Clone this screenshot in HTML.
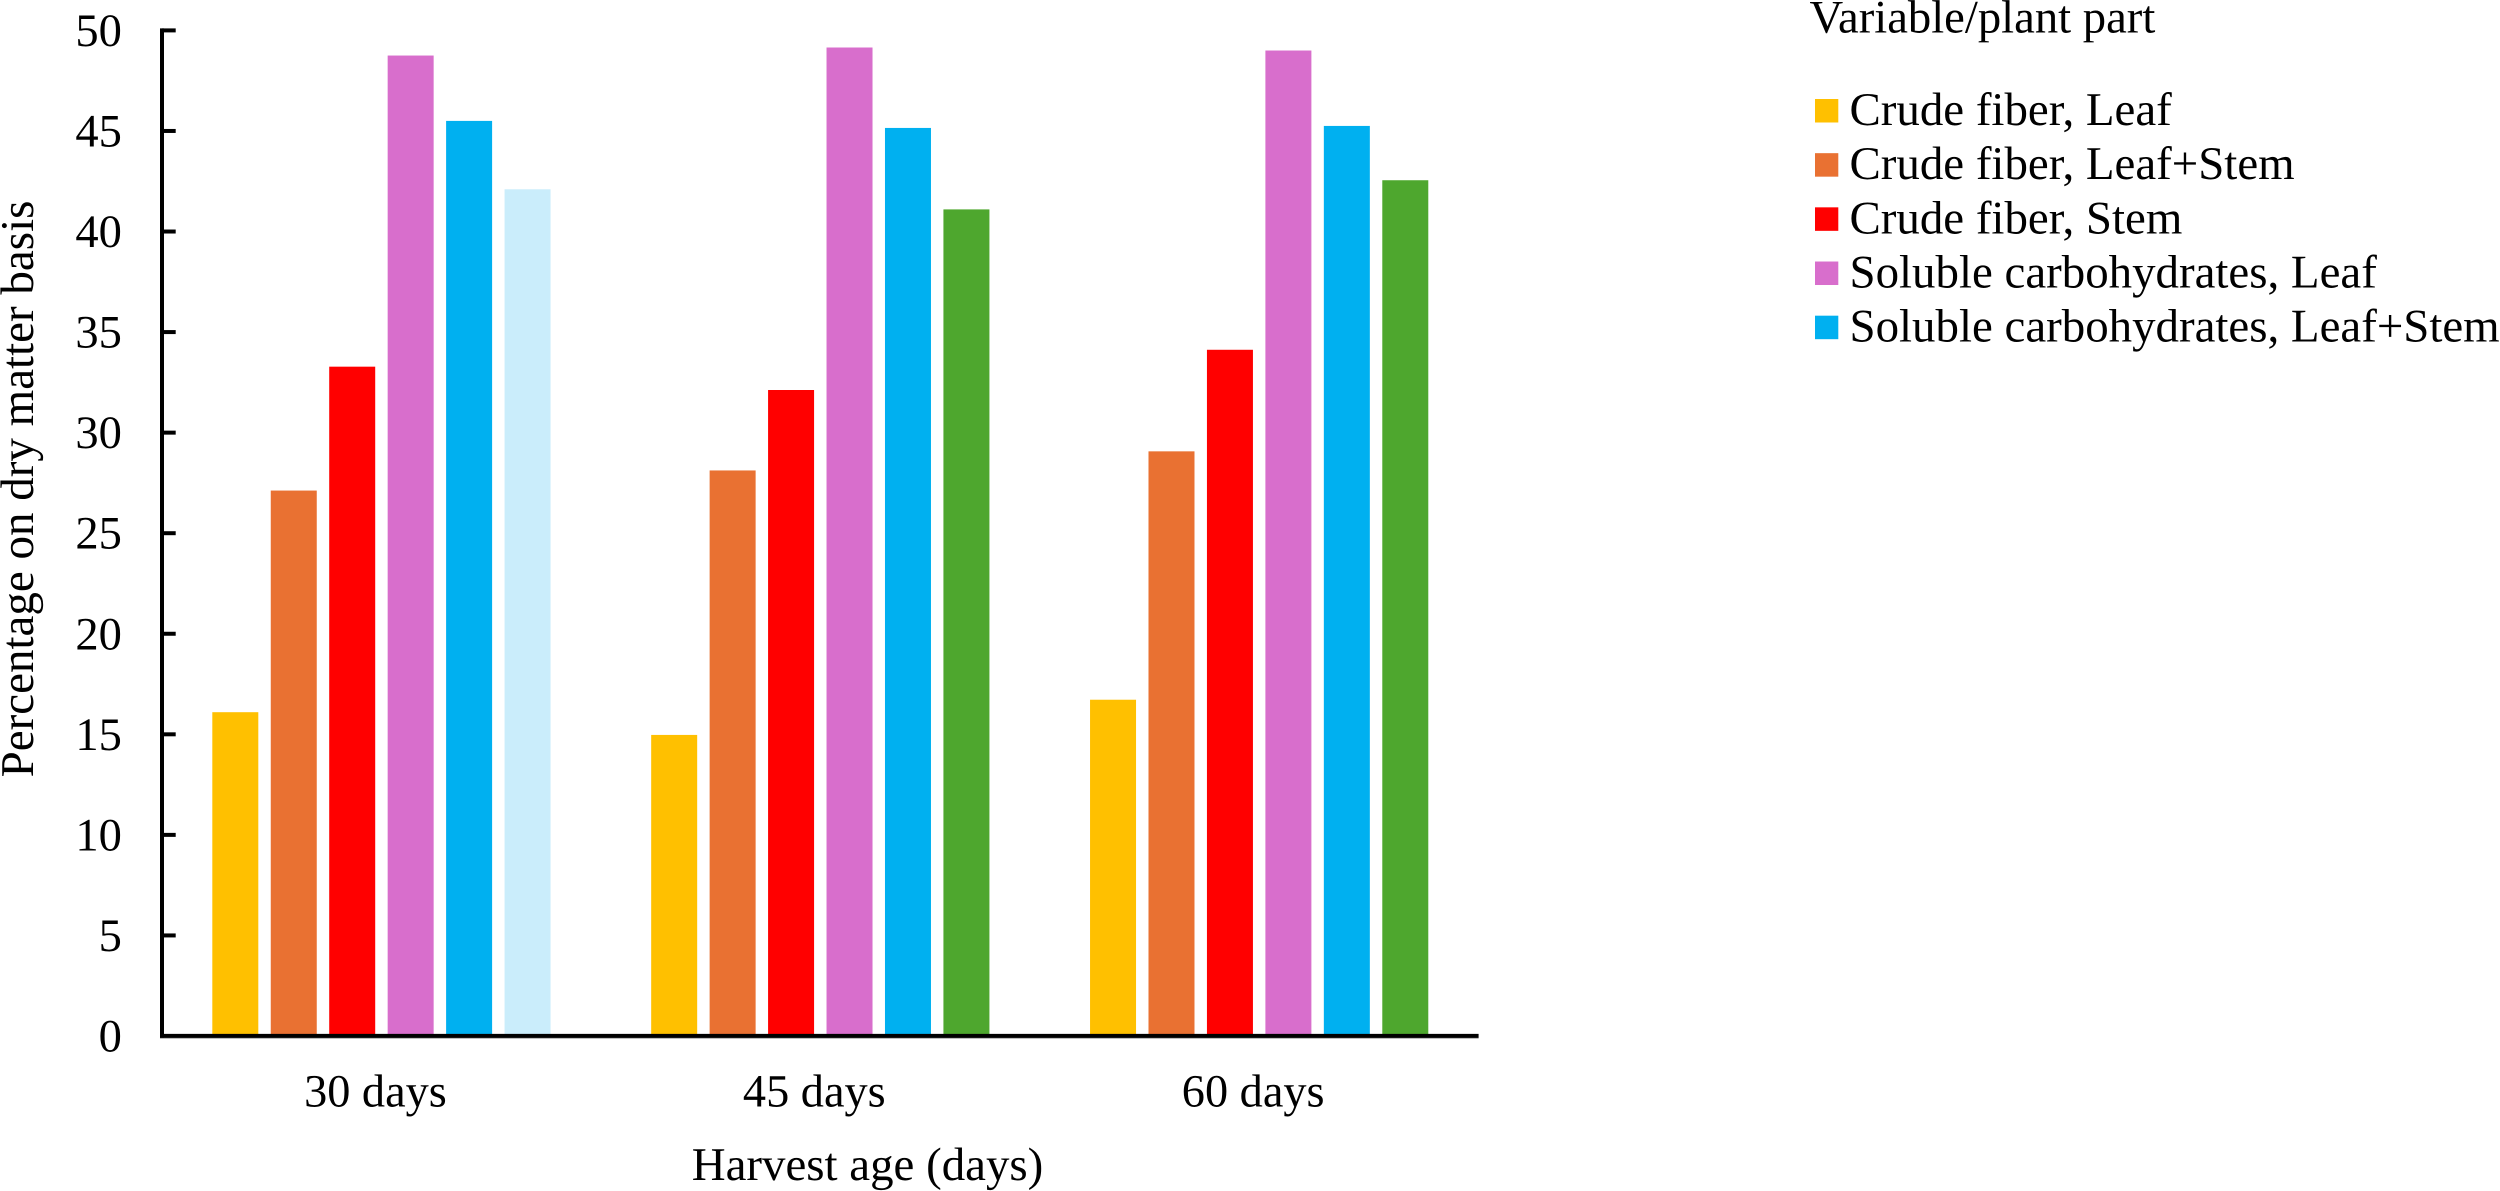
<!DOCTYPE html>
<html lang="en">
<head>
<meta charset="utf-8">
<title>Crude fiber and soluble carbohydrates by harvest age</title>
<style>
html,body{margin:0;padding:0;background:#fff;width:2500px;height:1191px;overflow:hidden}
svg{display:block}
text{font-family:"Liberation Serif",serif;fill:#000;text-rendering:geometricPrecision}
</style>
</head>
<body>
<svg id="chart" xmlns="http://www.w3.org/2000/svg" width="2500" height="1191" viewBox="0 0 2500 1191">
  <rect x="0" y="0" width="2500" height="1191" fill="#fff"/>
  <g id="bars"></g>
  <g id="axes"></g>
  <text font-size="47" text-anchor="middle" transform="translate(33,489) rotate(-90)">Percentage on dry matter basis</text>
  <text font-size="46.9" text-anchor="middle" x="867.5" y="1180">Harvest age (days)</text>
  <text font-size="46.65" x="1809.5" y="32.7">Variable/plant part</text>
  <g id="legend"></g>
</svg>
<script>
const categories = ["30 days", "45 days", "60 days"];
const crudeFiberLeaf = [16.1, 14.97, 16.72];
const crudeFiberLeafStem = [27.12, 28.12, 29.07];
const crudeFiberStem = [33.28, 32.12, 34.12];
const solubleCarbLeaf = [48.75, 49.15, 49.0];
const solubleCarbLeafStem = [45.5, 45.15, 45.25];
const solubleCarbStem = [42.1, 41.1, 42.55];
const yTicks = [0, 5, 10, 15, 20, 25, 30, 35, 40, 45, 50];
const legendLabels = ["Crude fiber, Leaf", "Crude fiber, Leaf+Stem", "Crude fiber, Stem", "Soluble carbohydrates, Leaf", "Soluble carbohydrates, Leaf+Stem"];

const seriesList = [crudeFiberLeaf, crudeFiberLeafStem, crudeFiberStem, solubleCarbLeaf, solubleCarbLeafStem, solubleCarbStem];
const seriesColors = [
  ["#FFC000", "#FFC000", "#FFC000"],
  ["#E97132", "#E97132", "#E97132"],
  ["#FF0000", "#FF0000", "#FF0000"],
  ["#D86ECC", "#D86ECC", "#D86ECC"],
  ["#00B0F0", "#00B0F0", "#00B0F0"],
  ["#CAEDFB", "#4EA72E", "#4EA72E"]
];

const NS = "http://www.w3.org/2000/svg";
const plotLeft = 162, plotRight = 1478.6, plotBottom = 1036, plotTop = 30.4, yMax = 50;
const bandWidth = (plotRight - plotLeft) / categories.length;
const barStep = 58.45, barWidth = 46;

function yScale(v) { return plotBottom - (v / yMax) * (plotBottom - plotTop); }
function bandCenter(i) { return plotLeft + bandWidth * (i + 0.5); }
function barX(c, s) { return bandCenter(c) + (s - (seriesList.length - 1) / 2) * barStep - barWidth / 2; }
function make(tag, attrs) {
  const el = document.createElementNS(NS, tag);
  for (const k in attrs) el.setAttribute(k, attrs[k]);
  return el;
}

const barsG = document.getElementById("bars");
const axesG = document.getElementById("axes");
const legendG = document.getElementById("legend");

seriesList.forEach(function (values, s) {
  values.forEach(function (v, c) {
    const r = make("rect", { x: barX(c, s), y: yScale(v), width: barWidth, height: plotBottom - yScale(v), fill: seriesColors[s][c] });
    
    
    barsG.appendChild(r);
  });
});

const yLine = make("line", { x1: plotLeft, x2: plotLeft, y1: plotTop - 2, y2: plotBottom + 2, stroke: "#000", "stroke-width": 4 });


axesG.appendChild(yLine);

const xShadow = make("line", { x1: plotLeft - 2, x2: plotRight, y1: plotBottom + 2.1, y2: plotBottom + 2.1, stroke: "#999", "stroke-width": 1 });


axesG.appendChild(xShadow);

const xLine = make("line", { x1: plotLeft - 2, x2: plotRight, y1: plotBottom - 0.1, y2: plotBottom - 0.1, stroke: "#000", "stroke-width": 4 });


axesG.appendChild(xLine);

yTicks.forEach(function (t) {
  const y = yScale(t);
  if (t !== 0) {
    const tick = make("line", { x1: plotLeft, x2: 175.7, y1: y, y2: y, stroke: "#000", "stroke-width": 4 });
    
    
    axesG.appendChild(tick);
  }
  const label = make("text", { x: 121.9, y: y + 15.5, "font-size": 46.5, "text-anchor": "end" });
  
  
  label.textContent = String(t);
  axesG.appendChild(label);
});

categories.forEach(function (name, c) {
  const label = make("text", { x: bandCenter(c) - 6, y: 1106.5, "font-size": 46.3, "text-anchor": "middle" });
  
  
  label.textContent = name;
  axesG.appendChild(label);
});

legendLabels.forEach(function (name, i) {
  const top = 99 + i * 54.17;
  const swatch = make("rect", { x: 1815, y: top, width: 23.3, height: 23.5, fill: seriesColors[i][0] });
  
  
  legendG.appendChild(swatch);
  const label = make("text", { x: 1849.5, y: top + 26, "font-size": 46.9 });
  
  
  label.textContent = name;
  legendG.appendChild(label);
});
</script>
</body>
</html>
